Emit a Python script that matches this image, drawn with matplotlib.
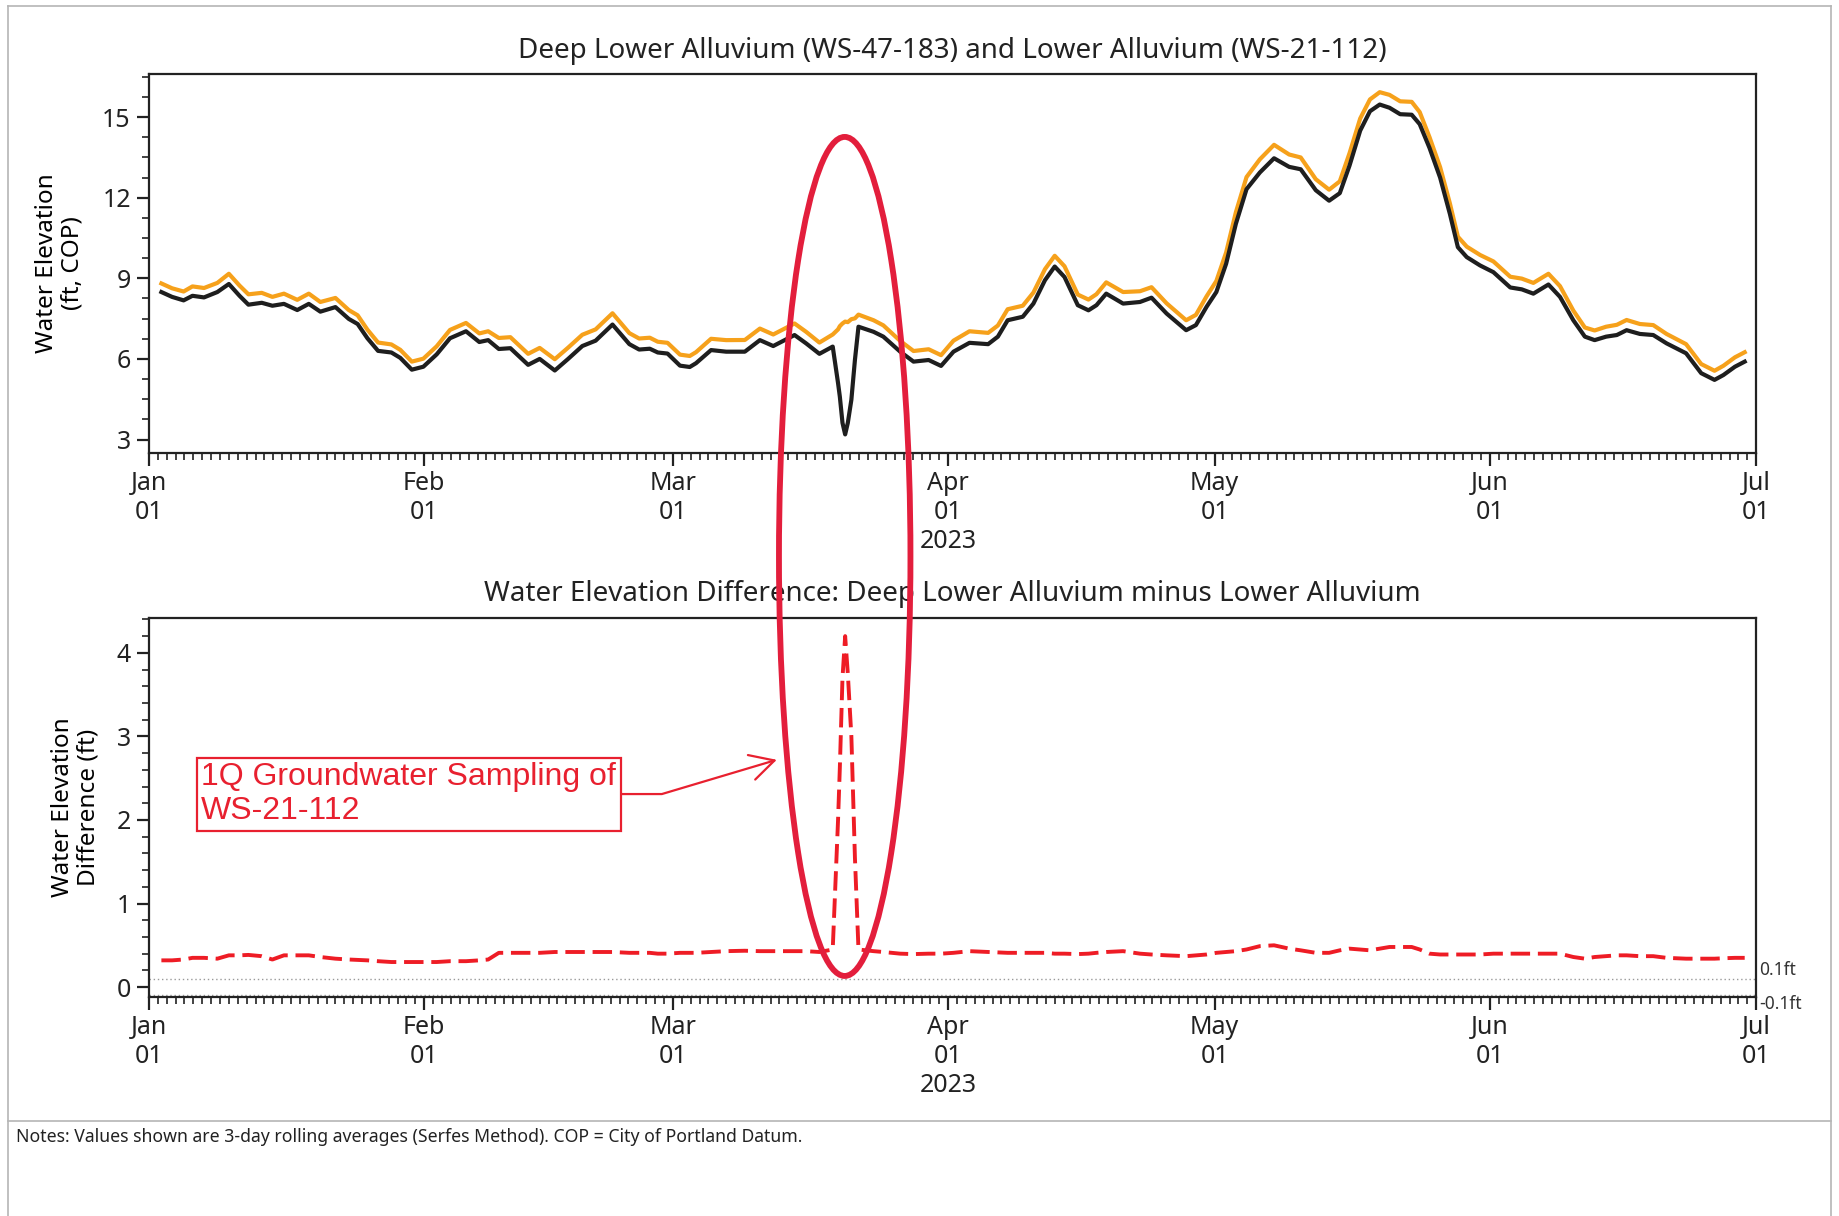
import numpy as np
import pandas as pd
import matplotlib
matplotlib.use('Agg')
import matplotlib.pyplot as plt
import matplotlib.dates as mdates
from matplotlib.ticker import AutoMinorLocator, MultipleLocator
from matplotlib.patches import Ellipse
from matplotlib.lines import Line2D

plt.rcParams['font.family'] = ['Noto Sans', 'DejaVu Sans']

# days after 2023-01-01 (3-day rolling average readings)
days = [1.4, 2.6, 3.9, 4.9, 6.2, 7.7, 9.0, 10.2, 11.2, 12.7, 13.9, 15.2, 16.7, 18.0,
        19.3, 21.0, 22.5, 23.5, 24.6, 25.8, 27.3, 28.3, 29.6, 30.9, 32.4, 33.9, 35.7,
        37.2, 38.2, 39.4, 40.7, 42.7, 44.0, 45.7, 47.2, 48.8, 50.3, 52.2, 54.1, 55.2,
        56.4, 57.3, 58.4, 59.8, 60.9, 61.6, 63.3, 65.0, 67.1, 68.8, 70.3, 72.7, 74.0,
        75.5, 77.0, 77.6, 77.8, 78.1, 78.4, 78.7, 79.1, 79.5, 79.9, 81.6, 82.7, 84.6,
        86.1, 87.8, 89.2, 90.6, 92.4, 94.5, 95.6, 96.7, 98.4, 99.6, 100.9, 102.0,
        103.1, 104.6, 105.8, 106.7, 107.8, 109.7, 111.6, 112.9, 114.6, 116.8, 117.9,
        119.1, 120.2, 121.3, 122.4, 123.6, 125.1, 126.7, 128.4, 129.7, 131.4, 132.9,
        134.1, 135.2, 136.4, 137.5, 138.6, 139.7, 140.9, 142.2, 143.1, 144.2, 145.4,
        146.5, 147.4, 148.4, 149.9, 151.4, 153.3, 154.6, 155.9, 157.6, 158.9, 160.4,
        161.7, 162.8, 164.1, 165.3, 166.4, 167.9, 169.4, 170.9, 173.1, 174.8, 176.3,
        177.3, 178.6, 179.7]

# Lower Alluvium WS-21-112 (black)
lower = [8.49, 8.31, 8.18, 8.35, 8.29, 8.49, 8.79, 8.35, 8.02, 8.09, 7.98, 8.05, 7.82, 8.05,
         7.76, 7.93, 7.49, 7.30, 6.77, 6.30, 6.24, 6.04, 5.60, 5.71, 6.17, 6.77, 7.03,
         6.63, 6.70, 6.37, 6.40, 5.78, 6.00, 5.57, 6.00, 6.48, 6.68, 7.28, 6.55, 6.35,
         6.38, 6.24, 6.20, 5.75, 5.70, 5.84, 6.33, 6.27, 6.27, 6.70, 6.48, 6.89, 6.58,
         6.19, 6.46, 5.10, 4.60, 3.62, 3.19, 3.62, 4.48, 5.96, 7.20, 7.01, 6.83, 6.27,
         5.90, 5.96, 5.74, 6.27, 6.60, 6.55, 6.83, 7.44, 7.57, 8.06, 8.93, 9.44,
         9.05, 8.00, 7.81, 8.00, 8.43, 8.06, 8.12, 8.28, 7.69, 7.07, 7.26,
         7.94, 8.49, 9.54, 11.03, 12.32, 12.94, 13.47, 13.15, 13.06, 12.28, 11.89,
         12.17, 13.20, 14.50, 15.22, 15.47, 15.35, 15.11, 15.09, 14.74, 13.86, 12.75,
         11.40, 10.16, 9.79, 9.48, 9.23, 8.66, 8.59, 8.43, 8.77, 8.31, 7.44,
         6.83, 6.70, 6.83, 6.89, 7.07, 6.93, 6.89, 6.58, 6.21, 5.47, 5.22,
         5.40, 5.71, 5.90]

# Deep Lower minus Lower difference (ft)
difference = [0.32, 0.32, 0.33, 0.35, 0.35, 0.34, 0.38, 0.38, 0.385, 0.37, 0.33, 0.38, 0.38, 0.38,
              0.36, 0.34, 0.33, 0.325, 0.32, 0.31, 0.30, 0.30, 0.30, 0.30, 0.30, 0.31, 0.31,
              0.32, 0.33, 0.41, 0.41, 0.41, 0.41, 0.42, 0.42, 0.42, 0.42, 0.42, 0.41, 0.41,
              0.41, 0.40, 0.40, 0.41, 0.41, 0.41, 0.42, 0.43, 0.435, 0.43, 0.43, 0.43, 0.43,
              0.42, 0.45, 2.00, 2.62, 3.70, 4.20, 3.75, 3.00, 1.55, 0.45, 0.43, 0.42, 0.40,
              0.395, 0.40, 0.40, 0.41, 0.43, 0.42, 0.415, 0.41, 0.41, 0.41, 0.41, 0.40,
              0.40, 0.395, 0.40, 0.41, 0.42, 0.43, 0.40, 0.39, 0.38, 0.37, 0.38,
              0.39, 0.41, 0.42, 0.43, 0.45, 0.49, 0.50, 0.46, 0.44, 0.41, 0.41,
              0.44, 0.46, 0.45, 0.44, 0.46, 0.48, 0.48, 0.48, 0.45, 0.40, 0.39,
              0.39, 0.39, 0.39, 0.39, 0.40, 0.40, 0.40, 0.40, 0.40, 0.40, 0.36,
              0.34, 0.36, 0.37, 0.38, 0.38, 0.37, 0.37, 0.35, 0.34, 0.34, 0.34,
              0.345, 0.35, 0.35]

tick_labels = ['Jan\n01', 'Feb\n01', 'Mar\n01', 'Apr\n01\n2023', 'May\n01', 'Jun\n01', 'Jul\n01']
sampling_day = 78.35

start = pd.Timestamp('2023-01-01')
dates = (start + pd.to_timedelta(days, unit='D')).to_numpy()
lower = np.array(lower)
difference = np.array(difference)
deep = lower + difference

orange = '#F6A11B'
black = '#1E1E1E'
red = '#EE1C25'
W, H = 1839, 1216

fig = plt.figure(figsize=(W / 100, H / 100), dpi=100, facecolor='w')
ax1 = fig.add_axes([0.081, 0.6275, 0.874, 0.3115])
ax2 = fig.add_axes([0.081, 0.180, 0.874, 0.312])

ax1.plot(dates, deep, color=orange, lw=3.0, solid_joinstyle='round')
ax1.plot(dates, lower, color=black, lw=3.0, solid_joinstyle='round')
ax1.set_ylim(2.5, 16.6)
ax1.yaxis.set_major_locator(MultipleLocator(3))
ax1.yaxis.set_minor_locator(AutoMinorLocator(4))
ax1.set_ylabel('Water Elevation\n(ft, COP)', fontsize=17.5, linespacing=1.1)
ax1.yaxis.set_label_coords(-0.040, 0.5)
ax1.set_title('Deep Lower Alluvium (WS-47-183) and Lower Alluvium (WS-21-112)',
              fontsize=20, pad=12, color='#222222')

ax2.plot(dates, difference, color=red, lw=2.8, dashes=(5, 2))
ax2.axhline(0.1, color='#999999', lw=1, ls=(0, (1, 2)))
ax2.axhline(-0.1, color='#999999', lw=1, ls=(0, (1, 2)))
ax2.set_ylim(-0.12, 4.42)
ax2.yaxis.set_major_locator(MultipleLocator(1))
ax2.yaxis.set_minor_locator(AutoMinorLocator(5))
ax2.set_ylabel('Water Elevation\nDifference (ft)', fontsize=17.5, linespacing=1.1)
ax2.yaxis.set_label_coords(-0.030, 0.5)
ax2.set_title('Water Elevation Difference: Deep Lower Alluvium minus Lower Alluvium',
              fontsize=20, pad=12, color='#222222')
ax2.text(1.002, 0.1, '0.1ft', transform=ax2.get_yaxis_transform(), fontsize=12.5,
         va='bottom', ha='left', color='#333333')
ax2.text(1.002, -0.1, '-0.1ft', transform=ax2.get_yaxis_transform(), fontsize=12.5,
         va='top', ha='left', color='#333333')

month_ticks = pd.date_range('2023-01-01', '2023-07-01', freq='MS').to_numpy()
for ax in (ax1, ax2):
    ax.set_xlim(start.to_numpy(), pd.Timestamp('2023-07-01').to_numpy())
    ax.set_xticks(month_ticks)
    ax.set_xticklabels(tick_labels)
    ax.xaxis.set_minor_locator(mdates.DayLocator())
    ax.tick_params(which='major', direction='out', length=9, width=1.6,
                   labelsize=18, pad=4, colors='#222222')
    ax.tick_params(which='minor', direction='out', length=5, width=1.2, colors='#222222')
    for s in ax.spines.values():
        s.set_linewidth(1.6)
        s.set_color('#222222')

# callout box and arrow
ax2.annotate('1Q Groundwater Sampling of\nWS-21-112',
             xy=(start + pd.Timedelta(days=70.7), 2.72),
             xytext=(start + pd.Timedelta(days=5.9), 2.31),
             fontsize=23, family='Liberation Sans', color='#E8202F',
             va='center', ha='left', linespacing=1.15,
             bbox=dict(boxstyle='square,pad=0.15', fc='white', ec='#E8202F', lw=1.6),
             arrowprops=dict(arrowstyle='->,head_length=0.75,head_width=0.4',
                             connectionstyle='angle,angleA=0,angleB=16.6,rad=0',
                             relpos=(1, 0.5), color='#E8202F', lw=1.6,
                             shrinkA=0, shrinkB=0))

# ellipse around the sampling event, spanning both panels
cx = ax1.transData.transform((mdates.date2num(start + pd.Timedelta(days=sampling_day)), 0))
cx = fig.transFigure.inverted().transform(cx)[0]
fig.add_artist(Ellipse((cx, 0.5424), 0.0715, 0.690, transform=fig.transFigure,
                       fill=False, ec='#E31E3C', lw=4.2, zorder=10))

# page frame and notes
frame = '#b5b5b5'
fig.add_artist(Line2D([8 / W, 8 / W], [0, 1 - 6 / H], color=frame, lw=1.2))
fig.add_artist(Line2D([1831 / W, 1831 / W], [0, 1 - 6 / H], color=frame, lw=1.2))
fig.add_artist(Line2D([8 / W, 1831 / W], [1 - 6 / H, 1 - 6 / H], color=frame, lw=1.2))
fig.add_artist(Line2D([8 / W, 1831 / W], [1 - 1121 / H, 1 - 1121 / H], color=frame, lw=1.2))
fig.text(16 / W, 1 - 1137 / H,
         'Notes: Values shown are 3-day rolling averages (Serfes Method). COP = City of Portland Datum.',
         fontsize=12.7, va='center', ha='left', color='#222222')

fig.savefig('out.png', dpi=100, facecolor='w')
